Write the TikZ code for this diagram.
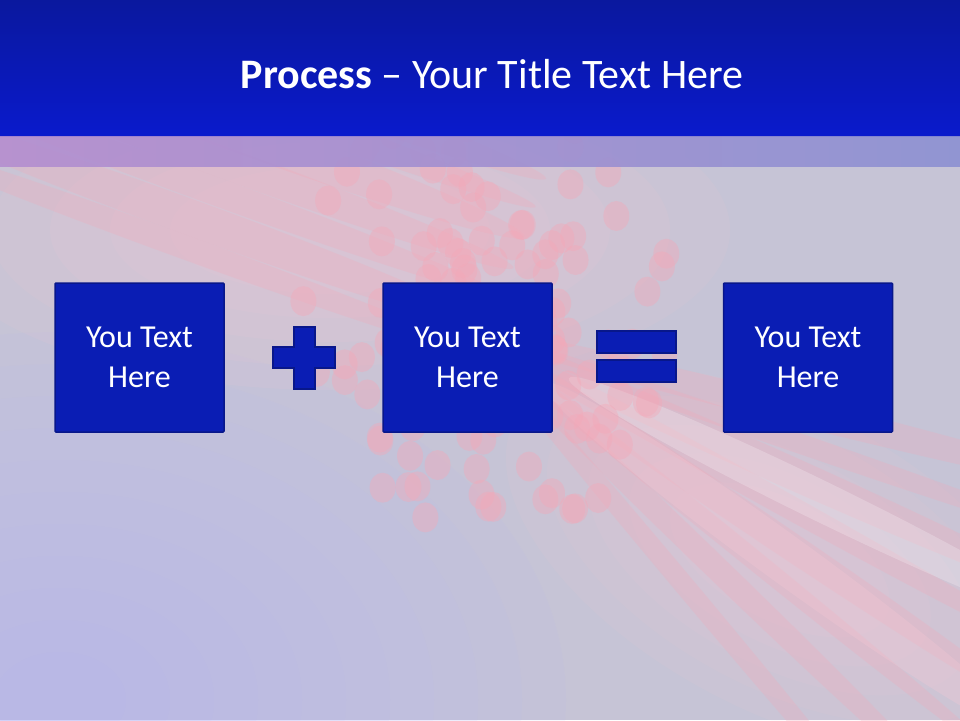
\documentclass[tikz,border=0pt]{standalone}
\usepackage{fontspec}
\setmainfont{Carlito}
\usetikzlibrary{shadings}
\definecolor{barTop}{HTML}{0A189E}
\definecolor{barBot}{HTML}{0A1ACC}
\definecolor{boxFill}{HTML}{0A1DB4}
\definecolor{boxLine}{HTML}{08178A}
\definecolor{bgBase}{HTML}{C6C4D6}
\definecolor{bgBlue}{HTML}{B8B8F4}
\definecolor{bandL}{HTML}{B48ED0}
\definecolor{bandR}{HTML}{8C90D2}
\definecolor{pinkSpot}{HTML}{F4A8B8}
\definecolor{pinkLight}{HTML}{F6C8D4}
\tikzset{
  textbox/.style={draw=boxLine, line width=1.5pt, fill=boxFill, minimum width=169pt, minimum height=149pt, inner sep=0pt, text=white, font=\fontsize{32}{40}\selectfont, align=center, rounded corners=1pt},
  symb/.style={fill=boxFill, draw=boxLine, line width=1.5pt},
  spot/.style={fill=pinkSpot, opacity=0.4},
  streak/.style={fill=pinkSpot, opacity=0.26}
}
\begin{document}
\begin{tikzpicture}[x=1pt,y=-1pt]
\useasboundingbox (0,0) rectangle (960,720);
% background
\fill[bgBase] (0,0) rectangle (960,720);
\begin{scope}
\clip (0,136) rectangle (960,720);
\foreach \r in {460,420,...,60}{
  \fill[bgBlue, opacity=0.09] (60,700) ellipse[x radius=\r*1.1, y radius=\r*0.8];
}
\foreach \s in {1.0,0.85,0.7,0.55,0.4}{
  \fill[pinkLight, opacity=0.1] (330,230) ellipse[x radius=400*\s, y radius=160*\s];
  \fill[pinkLight, opacity=0.09, rotate around={-28:(780,560)}] (780,560) ellipse[x radius=300*\s, y radius=150*\s];
}
% streaks upper left
\foreach \y/\w in {160/16, 190/14, 222/20, 255/16, 285/14, 318/18, 348/12}{
  \fill[streak, rotate around={-20:(470,300)}] (180,\y) ellipse[x radius=320, y radius=\w];
}
% streaks lower right
\foreach \a/\w in {-14/14, -19/10, -24/16, -29/12, -34/14, -39/10, -44/12, -50/10}{
  \fill[streak, rotate around={\a:(470,330)}] (800,330) ellipse[x radius=360, y radius=\w];
}
\fill[white, opacity=0.22, rotate around={-26:(470,330)}] (860,330) ellipse[x radius=280, y radius=20];
\fill[pinkLight, opacity=0.3, rotate around={-36:(470,330)}] (860,330) ellipse[x radius=300, y radius=24];
\pgfmathsetseed{7}
\foreach \i in {1,...,130}{
  \pgfmathsetmacro{\ang}{rnd*360}
  \pgfmathsetmacro{\rad}{40+rnd*200}
  \pgfmathsetmacro{\cx}{490+\rad*cos(\ang)*0.8}
  \pgfmathsetmacro{\cy}{310+\rad*sin(\ang)*0.95}
  \fill[spot] (\cx,\cy) ellipse[x radius=13, y radius=15];
}
\end{scope}
% title bar
\shade[top color=barTop, bottom color=barBot] (0,0) rectangle (960,136);
\shade[left color=bandL, right color=bandR, opacity=0.9] (0,136) rectangle (960,166);
\node[text=white, font=\fontsize{42}{48}\selectfont, anchor=base] (title) at (492,88) {\textbf{Process} – Your Title Text Here};
% boxes
\node[textbox] (b1) at (139.5,357.5) {You Text\\Here};
\node[textbox] (b2) at (467.5,357.5) {You Text\\Here};
\node[textbox] (b3) at (808,357.5) {You Text\\Here};
% plus
\draw[symb] (294,327) -- (315,327) -- (315,347) -- (335,347) -- (335,368) -- (315,368) -- (315,389) -- (294,389) -- (294,368) -- (273,368) -- (273,347) -- (294,347) -- cycle;
% equals
\draw[symb] (597,331) rectangle (676,353);
\draw[symb] (597,360) rectangle (676,382);
\end{tikzpicture}
\end{document}
